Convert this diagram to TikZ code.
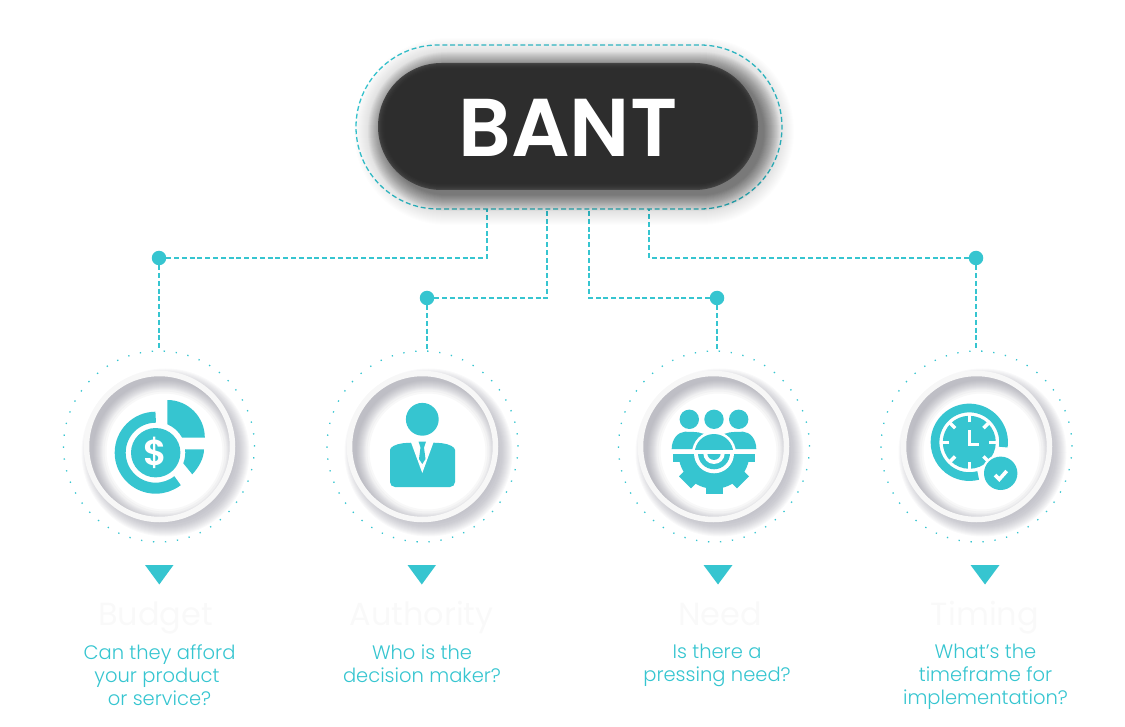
\documentclass[tikz,border=0pt]{standalone}
\usepackage{fontspec}
\setmainfont{Poppins}[UprightFont=* Light,BoldFont=* SemiBold]
\newfontfamily\popreg{Poppins}
\usetikzlibrary{shapes.misc}
\definecolor{teal}{HTML}{36C5D0}
\definecolor{pilldark}{HTML}{2D2D2D}
\definecolor{pilledge}{HTML}{444444}
\definecolor{ringgrey}{HTML}{F7F7F7}
\definecolor{shadegrey}{HTML}{8A8A98}
\definecolor{faint}{HTML}{F9F9F9}
\tikzset{
  link/.style={draw=teal, line width=1.3pt, dash pattern=on 5pt off 2.8pt},
  hub/.style={circle, fill=teal, minimum size=14.5pt, inner sep=0pt, outer sep=0pt},
  dotring/.style={draw=teal, circle, minimum size=191pt, inner sep=0pt, outer sep=0pt, line width=1.3pt, dash pattern=on 1.3pt off 10.7pt},
  whitering/.style={draw=ringgrey, fill=none, circle, minimum size=146pt, inner sep=0pt, line width=5.5pt},
  pointer/.style={fill=teal},
  asktext/.style={text=teal, align=center, anchor=north, font=\fontsize{19.5}{23}\selectfont},
  headtext/.style={text=faint, anchor=base, font=\popreg\fontsize{32}{36}\selectfont}
}
% soft shadows round one disc at (#1,#2)
\newcommand{\discshade}[2]{
  \foreach \g in {68,70,72,74,75,76,77,78,79,80,81,82,83,84} {
    \fill[shadegrey, opacity=0.05] (#1+6,#2+6) circle[radius=\g];
  }
  \fill[white] (#1,#2) circle[radius=72];
  \begin{scope}
    \clip (#1,#2) circle[radius=71];
    \foreach \g in {58,60,62,63,64,65,66,67,68,69,70,71} {
      \fill[shadegrey, opacity=0.06, even odd rule] (#1-90,#2-90) rectangle (#1+90,#2+90) (#1+5,#2+5) circle[radius=\g];
    }
  \end{scope}
}
\begin{document}
\begin{tikzpicture}[x=1pt, y=-1pt]
  \useasboundingbox (0,0) rectangle (1125,727);
  % top frame and branches
  \node[rounded rectangle, link, minimum width=426pt, minimum height=164pt, inner sep=0pt, outer sep=0pt] (frame) at (569,127) {};
  \coordinate (t1) at (487,209);
  \coordinate (t2) at (547,209);
  \coordinate (t3) at (589,209);
  \coordinate (t4) at (649,209);
  \node[hub] (d1) at (159,258) {};
  \node[hub] (d2) at (427,298) {};
  \node[hub] (d3) at (717,298) {};
  \node[hub] (d4) at (976,258) {};
  \node[dotring] (o1) at (159,446.5) {};
  \node[dotring] (o2) at (422.5,446.5) {};
  \node[dotring] (o3) at (714,446.5) {};
  \node[dotring] (o4) at (976.5,446.5) {};
  \draw[link] (d1) -| (t1);
  \draw[link] (d2) -| (t2);
  \draw[link] (d3) -| (t3);
  \draw[link] (d4) -| (t4);
  \draw[link] (d1) -- (d1 |- o1.north);
  \draw[link] (d2) -- (d2 |- o2.north);
  \draw[link] (d3) -- (d3 |- o3.north);
  \draw[link] (d4) -- (d4 |- o4.north);
  % pill shadow, over the frame
  \foreach \g in {0,1,...,30} {
    \fill[black, opacity=0.009, rounded corners=63+\g] (378+6-\g,63+5-\g) rectangle (758+6+\g,190+5+\g);
  }
  \foreach \g in {0,1,...,16} {
    \fill[black, opacity=0.028, rounded corners=63+\g] (378+6-\g,63+5-\g) rectangle (758+6+\g,190+5+\g);
  }
  \fill[pilledge, rounded corners=63.5pt] (378,63) rectangle (758,190);
  \foreach \g in {1,2,...,7} {
    \fill[pilldark, opacity=0.3, rounded corners=63pt-\g] (378+\g,63+\g) rectangle (758-\g,190-\g);
  }
  \node[rounded rectangle, fill=pilldark, minimum width=366pt, minimum height=113pt, inner sep=0pt, text=white, font=\bfseries\fontsize{82}{82}\selectfont] (bant) at (568,127.5) {BANT};
  % the four discs
  \discshade{159.5}{446.5}
  \discshade{422.5}{446.5}
  \discshade{713.5}{446.5}
  \discshade{976.5}{446.5}
  \node[whitering] (c1) at (159.5,446.5) {};
  \node[whitering] (c2) at (422.5,446.5) {};
  \node[whitering] (c3) at (713.5,446.5) {};
  \node[whitering] (c4) at (976.5,446.5) {};
  % budget icon
  \draw[teal, line width=11pt] (155.7,452.7) ++(-90:35.5) arc[start angle=-90, end angle=-308, radius=35.5];
  \fill[teal] (155.7,452.7) circle[radius=24.7];
  \node[text=white, font=\bfseries\fontsize{36}{36}\selectfont, inner sep=0pt] (dollar) at (155.7,452.7) {\$};
  \fill[teal] (167.3,400) arc[start angle=-90, end angle=0, radius=37.5] -- (182,437.5) arc[start angle=-28.7, end angle=-67.3, radius=30] -- cycle;
  \fill[teal] (185,449.3) -- (204,449.3) .. controls (204,458) and (199,467) .. (192.3,474.3) -- (183.3,463.3) arc[start angle=21, end angle=-6.6, radius=30] -- cycle;
  % authority icon
  \fill[teal] (422.3,419.3) circle[radius=16.4];
  \fill[teal, rounded corners=5pt] (390,487) -- (390,455) .. controls (390,447) and (396,444) .. (408,442.7) -- (437,442.7) .. controls (449,444) and (455,447) .. (455,455) -- (455,487) -- cycle;
  \fill[white] (410.5,441) -- (434,441) -- (422.3,473) -- cycle;
  \fill[teal] (418.5,441.5) -- (426,441.5) -- (424,447.5) -- (425.5,459) -- (422.3,464) -- (419,459) -- (420.5,447.5) -- cycle;
  % need icon
  \begin{scope}
    \clip (660,454) rectangle (770,510);
    \fill[teal] (714,453.3) circle[radius=35.5];
    \foreach \a in {0,45,...,180} {
      \draw[teal, line width=17pt] (714,453.3) -- ++(\a:41);
    }
    \fill[white] (714,453.3) circle[radius=20];
    \fill[teal] (714,453.3) circle[radius=16];
    \fill[white] (714,453.3) circle[radius=10.7];
    \fill[teal] (714,453.3) circle[radius=6.7];
  \end{scope}
  \fill[teal] (689.3,419.3) circle[radius=9.7];
  \fill[teal] (714,419.3) circle[radius=9.7];
  \fill[teal] (738.7,419.3) circle[radius=9.7];
  \fill[teal] (671.7,449) .. controls (671.7,439) and (678,432) .. (685,431.7) -- (694,432) .. controls (700,432) and (706,434) .. (714,440) .. controls (722,434) and (728,432) .. (734,432) -- (743,431.7) .. controls (750,432) and (756.3,439) .. (756.3,449) -- cycle;
  \begin{scope}
    \clip (660,420) rectangle (770,449);
    \fill[white] (714,453.3) circle[radius=22];
    \fill[teal] (714,453.3) circle[radius=19.3];
  \end{scope}
  % timing icon
  \draw[teal, line width=8.7pt] (969.3,442.3) ++(8:34.3) arc[start angle=8, end angle=-285, radius=34.3];
  \fill[teal] (969.3,442.3) circle[radius=26.5];
  \foreach \a in {0,45,...,315} {
    \draw[white, line width=3.5pt] (969.3,442.3) ++(\a:20) -- ++(\a:7);
  }
  \draw[white, line width=3.5pt] (969.3,430) -- (969.3,444.5) -- (979,444.5);
  \fill[white] (1000.7,473.3) circle[radius=19];
  \fill[teal] (1000.7,473.3) circle[radius=16.7];
  \draw[white, line width=3.6pt] (995,475) -- (999.3,479.3) -- (1006.7,471);
  % pointers
  \fill[pointer] (145,565) -- (173.5,565) -- (159.3,584.5) -- cycle;
  \fill[pointer] (407.5,565) -- (436,565) -- (421.8,584.5) -- cycle;
  \fill[pointer] (703.5,565) -- (732.5,565) -- (718,584.5) -- cycle;
  \fill[pointer] (970.5,565) -- (999.5,565) -- (985,584.5) -- cycle;
  % labels
  \node[headtext] (h1) at (155.5,625) {Budget};
  \node[headtext] (h2) at (421.5,625) {Authority};
  \node[headtext] (h3) at (720,625) {Need};
  \node[headtext] (h4) at (985,625) {Timing};
  \node[asktext] (q1) at (159.5,641) {Can they afford\\your product\rule{5pt}{0pt}\\or service?};
  \node[asktext] (q2) at (422,641) {Who is the\\decision maker?};
  \node[asktext] (q3) at (717,641) {Is there a\\pressing need?};
  \node[asktext] (q4) at (985.5,641) {What’s the\\timeframe for\\implementation?};
\end{tikzpicture}
\end{document}
